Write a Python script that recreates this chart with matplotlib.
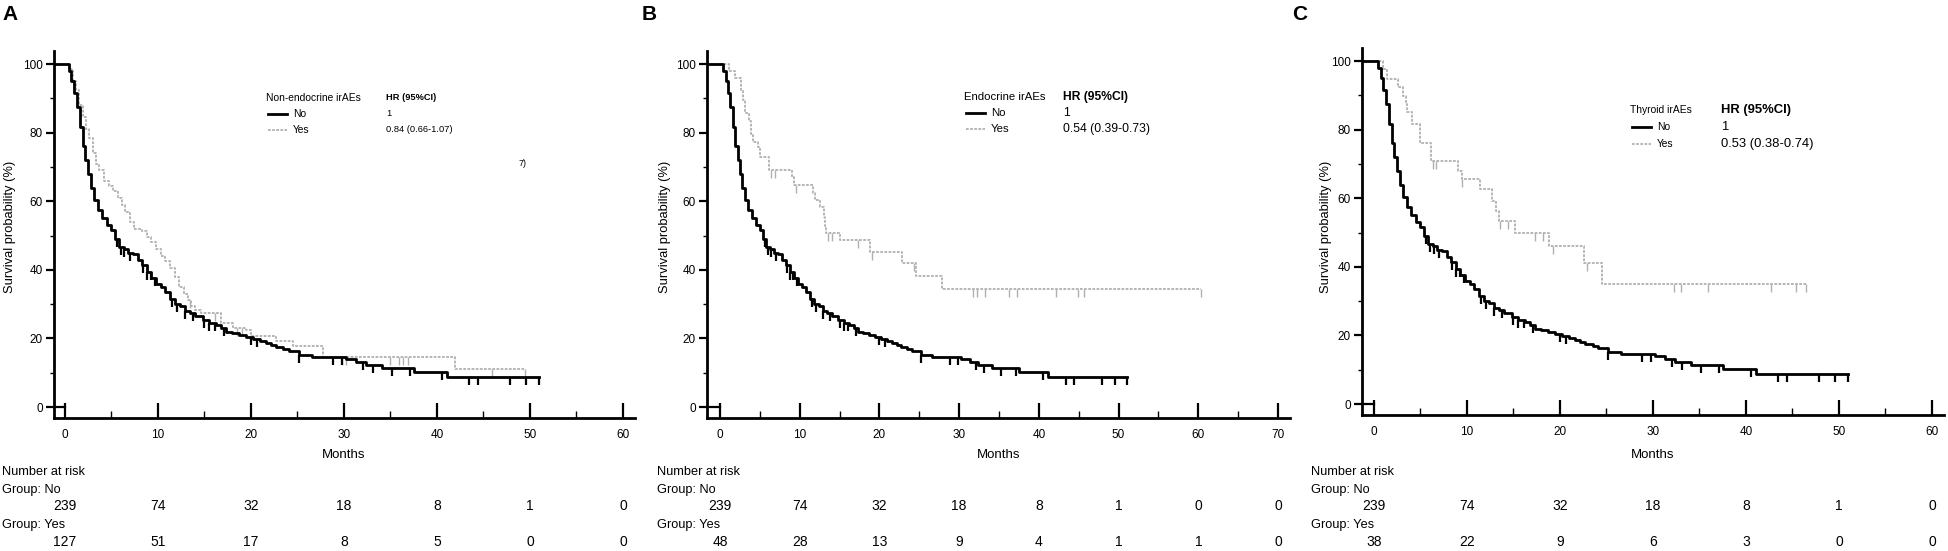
import numpy as np
import matplotlib
matplotlib.use('Agg')
import matplotlib.pyplot as plt
from matplotlib import transforms
from matplotlib.ticker import MultipleLocator

W, H = 1949, 551
NARROW = ['Liberation Sans Narrow', 'Liberation Sans', 'DejaVu Sans']
WIDE = ['Liberation Sans', 'DejaVu Sans']
plt.rcParams['font.family'] = NARROW

# "No" group (same 239 patients in all panels): step times and survival (%)
no_t = [0, 0.4, 0.7, 1.0, 1.3, 1.6, 1.9, 2.2, 2.5, 2.8, 3.1, 3.5, 4.0, 4.5, 5.0, 5.4,
        5.8, 6.3, 6.8, 7.3, 7.8, 8.3, 8.8, 9.3, 9.8, 10.3, 10.8, 11.3, 11.8, 12.4, 12.9,
        13.4, 14.0, 14.8, 15.5, 16.2, 16.8, 17.3, 18.0, 18.7, 19.5, 20.2, 21.0, 21.6,
        22.2, 22.7, 23.5, 24.1, 25.2, 26.6, 30.2, 31.3, 32.4, 34.1, 37.5, 41.1, 51.0]
no_s = [100, 98, 95, 91.5, 87.5, 81.5, 76, 72, 68, 64, 60.5, 57.5, 55, 53, 51.5, 49,
        46.8, 46, 45, 44.5, 43, 41.5, 39.5, 37.5, 36, 35, 33.5, 31.5, 30, 29.5, 28,
        27.3, 26.5, 25.4, 24.5, 23.9, 23, 22, 21.5, 21, 20.5, 19.7, 19.2, 18.6,
        18, 17.4, 17, 16.4, 15.2, 14.7, 13.9, 13.2, 12.2, 11.3, 10.3, 8.8, 8.8]
no_cens = [5.6, 6.0, 6.4, 7.0, 8.4, 8.8, 9.2, 9.7, 11.5, 12.0, 12.9, 13.8, 15.0, 15.5,
           16.1, 17.1, 20.0, 20.7, 25.2, 28.8, 29.8, 32.1, 33.1, 35.2, 37.1, 40.5,
           43.4, 44.4, 47.9, 49.6, 51.0]

# A: non-endocrine irAEs = Yes
a_t = [0, 0.5, 0.9, 1.2, 1.5, 1.9, 2.3, 2.6, 3.0, 3.3, 3.7, 4.2, 4.7, 5.2, 5.7, 6.1,
       6.5, 7.0, 7.4, 8.3, 8.8, 9.2, 9.8, 10.3, 10.8, 11.3, 11.8, 12.3, 12.8, 13.2,
       13.6, 14.0, 14.6, 16.8, 18.1, 19.5, 20.0, 22.7, 24.5, 27.8, 41.9, 49.5]
a_s = [100, 98.5, 95, 92.5, 88, 84.5, 81, 78.5, 74, 71, 69, 66, 64.5, 63, 61, 59,
       57, 54, 52, 51.2, 49.5, 48, 46, 44, 42.5, 40.4, 38, 35, 33, 31.2,
       29.5, 28.3, 27.3, 24.4, 22.9, 22.4, 20.7, 19.2, 17.8, 14.7, 11.0, 11.0]
a_cens = [13.4, 16.1, 18.5, 19.0, 29.8, 30.2, 35.0, 35.9, 36.3, 36.9, 45.9, 49.5]

# B: endocrine irAEs = Yes
b_t = [0, 1.1, 1.9, 2.6, 2.9, 3.1, 3.7, 3.95, 4.1, 4.75, 5.0, 6.1, 9.0, 9.3, 11.7,
       11.9, 12.5, 13.0, 13.2, 13.3, 15.1, 18.8, 22.8, 24.6, 27.8, 60.3]
b_s = [100, 97.9, 95.8, 92.4, 89.5, 85.6, 83.5, 79.5, 77.3, 75.9, 73, 69.1, 67.1, 64.7,
       62.3, 60.3, 58.4, 55.5, 52.8, 50.6, 48.7, 45.3, 41.9, 38.2, 34.3, 34.3]
b_cens = [6.4, 6.9, 9.5, 13.6, 14.1, 17.3, 19.1, 24.3, 31.7, 32.2, 33.3, 36.2, 37.2,
          42.2, 44.9, 45.7, 60.3]

# C: thyroid irAEs = Yes
c_t = [0, 1.0, 1.45, 2.6, 3.1, 3.4, 3.6, 4.1, 5.0, 6.1, 9.0, 9.5, 11.4, 12.7, 13.1,
       13.4, 15.2, 18.8, 22.6, 24.5, 46.5]
c_s = [100, 97.7, 94.7, 92.3, 89.9, 87.5, 85, 81.6, 76.2, 70.9, 67.9, 65.5, 62.6, 59.2,
       56.2, 53.3, 49.9, 46, 41.1, 35.1, 35.1]
c_cens = [6.3, 6.7, 9.5, 13.6, 14.4, 17.3, 18.2, 19.3, 22.9, 32.3, 33.0, 35.9, 42.7,
          45.4, 46.5]

risk_no_a = [239, 74, 32, 18, 8, 1, 0]
risk_yes_a = [127, 51, 17, 8, 5, 0, 0]
risk_no_b = [239, 74, 32, 18, 8, 1, 0, 0]
risk_yes_b = [48, 28, 13, 9, 4, 1, 1, 0]
risk_no_c = [239, 74, 32, 18, 8, 1, 0]
risk_yes_c = [38, 22, 9, 6, 3, 0, 0]

legend_titles = ['Non-endocrine irAEs', 'Endocrine irAEs', 'Thyroid irAEs']
hr_texts = ['0.84 (0.66-1.07)', '0.54 (0.39-0.73)', '0.53 (0.38-0.74)']
letters = ['A', 'B', 'C']

fig = plt.figure(figsize=(W / 100, H / 100), dpi=100)


def fx(x):
    return x / W


def fy(y):
    return 1 - y / H


GRAY = '#b0b0b0'

# leg = (title x, HR x, title y, row step, title size, HR size)
panels = [
    dict(rect=(54, 51, 635, 418), xlim=(-1.18, 61.3), xmax=60, yes=(a_t, a_s, a_cens),
         rno=risk_no_a, ryes=risk_yes_a, x0=0, tx=2, ylab_x=10, months_x=30,
         leg=(266, 386, 98, 16, 7.4, 6.7)),
    dict(rect=(707, 51, 1290, 418), xlim=(-1.63, 71.5), xmax=70, yes=(b_t, b_s, b_cens),
         rno=risk_no_b, ryes=risk_yes_b, x0=640, tx=657, ylab_x=665, months_x=35,
         leg=(964, 1063, 97, 16, 8.2, 8.7)),
    dict(rect=(1362, 48, 1944, 415), xlim=(-1.29, 61.3), xmax=60, yes=(c_t, c_s, c_cens),
         rno=risk_no_c, ryes=risk_yes_c, x0=1290, tx=1311, ylab_x=1326, months_x=30,
         leg=(1630, 1721, 110, 17, 7.4, 9.4)),
]


def draw_km(ax, t, s, cens, xlo, **kw):
    t = np.asarray(t)
    s = np.asarray(s)
    mew = kw.pop('mew', 1.0)
    ax.step(np.r_[xlo, t], np.r_[s[0], s], where='post', **kw)
    idx = np.searchsorted(t, cens, side='right') - 1
    ax.plot(cens, s[idx], linestyle='none', marker=3, markersize=6,
            color=kw.get('color'), markeredgewidth=mew)


for i, p in enumerate(panels):
    l, t_, r, b = p['rect']
    ax = fig.add_axes([fx(l), fy(b), fx(r - l), (b - t_) / H])
    ax.set_xlim(*p['xlim'])
    ax.set_ylim(-3.2, 103.8)
    for sp in ['top', 'right']:
        ax.spines[sp].set_visible(False)
    for sp in ['left', 'bottom']:
        ax.spines[sp].set_linewidth(2.0)
    ax.xaxis.set_minor_locator(MultipleLocator(5))
    ax.yaxis.set_minor_locator(MultipleLocator(10))
    ax.set_xticks(np.arange(0, p['xmax'] + 1, 10))
    ax.set_yticks(np.arange(0, 101, 20))
    ax.tick_params(axis='x', which='major', direction='in', length=11, width=1.6,
                   pad=8, labelsize=8.5)
    ax.tick_params(axis='x', which='minor', direction='in', length=5, width=1.0)
    ax.tick_params(axis='y', which='major', direction='out', length=6, width=1.6,
                   pad=2, labelsize=8.5)
    ax.tick_params(axis='y', which='minor', direction='out', length=3, width=1.0)
    xlo = p['xlim'][0]
    ax.plot([xlo, 0], [0, 0], color='black', lw=1.6, clip_on=False)

    yt, ys, yc = p['yes']
    draw_km(ax, yt, ys, yc, xlo, color=GRAY, lw=1.3, linestyle=(0, (1.5, 0.8)), mew=1.0)
    draw_km(ax, no_t, no_s, no_cens, xlo, color='black', lw=2.0, mew=1.6)

    x0 = p['x0']
    fig.text(fx(x0 + 2), fy(15), letters[i], fontsize=15, fontweight='bold',
             family=WIDE, va='center', ha='left')
    fig.text(fx(p['ylab_x']), fy(227), 'Survival probability (%)', rotation=90,
             fontsize=9.3, family=WIDE, va='center', ha='center')

    # legend
    lx, hx, ly, dy, fs, fh = p['leg']
    fig.text(fx(lx), fy(ly), legend_titles[i], fontsize=fs, family=WIDE,
             va='center', ha='left')
    fig.text(fx(hx), fy(ly), 'HR (95%CI)', fontsize=fh, family=WIDE, va='center',
             ha='left', fontweight='bold')
    fig.lines.append(plt.Line2D([fx(lx + 2), fx(lx + 21)], [fy(ly + dy)] * 2,
                                color='black', lw=2.0, transform=fig.transFigure))
    fig.lines.append(plt.Line2D([fx(lx + 2), fx(lx + 21)], [fy(ly + 2 * dy)] * 2,
                                color=GRAY, lw=1.3, linestyle=(0, (1.5, 0.8)),
                                transform=fig.transFigure))
    fig.text(fx(lx + 27), fy(ly + dy), 'No', fontsize=fs, family=WIDE,
             va='center', ha='left')
    fig.text(fx(lx + 27), fy(ly + 2 * dy), 'Yes', fontsize=fs, family=WIDE,
             va='center', ha='left')
    fig.text(fx(hx), fy(ly + dy), '1', fontsize=fh, family=WIDE, va='center', ha='left')
    fig.text(fx(hx), fy(ly + 2 * dy), hr_texts[i], fontsize=fh, family=WIDE,
             va='center', ha='left')

    # months and risk table
    bt = transforms.blended_transform_factory(ax.transData, fig.transFigure)
    ax.text(p['months_x'], fy(455), 'Months', transform=bt, fontsize=9.5,
            ha='center', va='center')
    fig.text(fx(p['tx']), fy(472), 'Number at risk', fontsize=9.2, va='center', ha='left')
    fig.text(fx(p['tx']), fy(490), 'Group: No', fontsize=9.2, va='center', ha='left')
    fig.text(fx(p['tx']), fy(525), 'Group: Yes', fontsize=9.2, va='center', ha='left')
    ticks = np.arange(0, p['xmax'] + 1, 10)
    for tk, n1, n2 in zip(ticks, p['rno'], p['ryes']):
        ax.text(tk, fy(506), str(n1), transform=bt, fontsize=10, ha='center', va='center')
        ax.text(tk, fy(542), str(n2), transform=bt, fontsize=10, ha='center', va='center')

fig.text(fx(519), fy(163), '7)', fontsize=6.5, family=WIDE, va='center', ha='left')

fig.savefig('out.png', dpi=100)
